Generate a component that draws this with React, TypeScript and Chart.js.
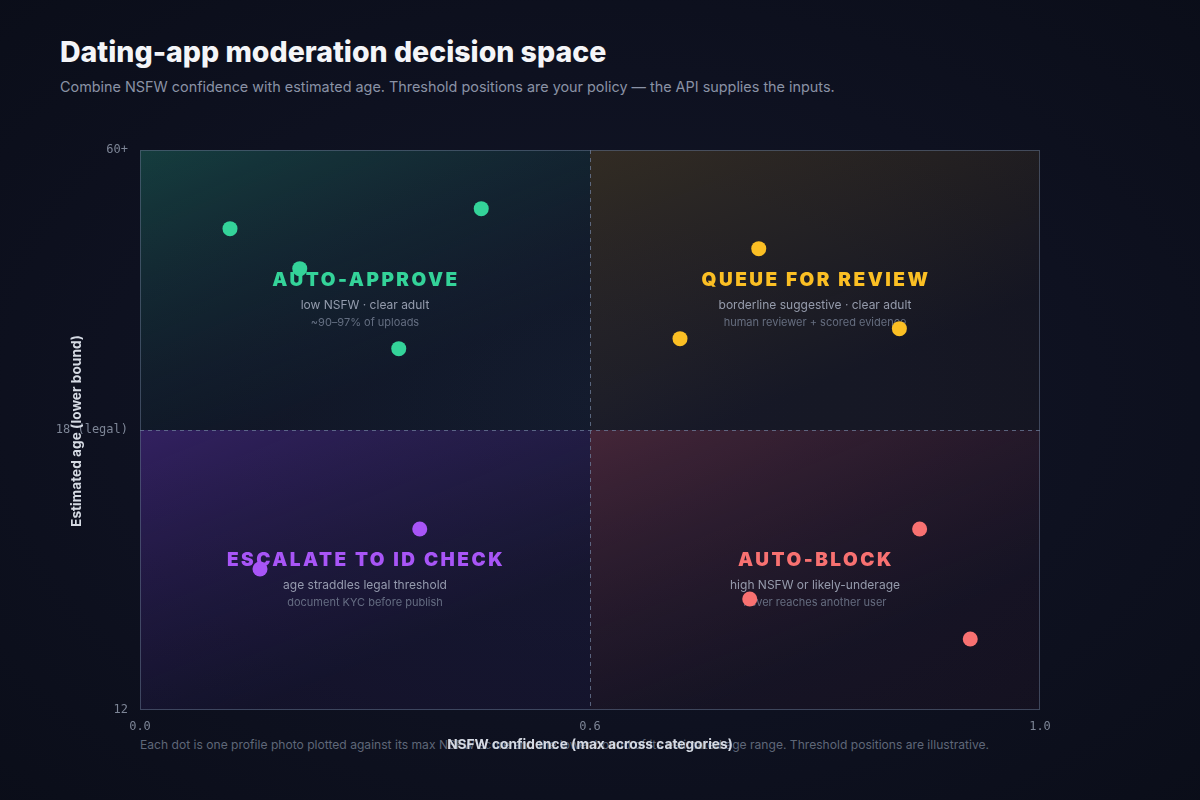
import React, { useEffect, useRef } from 'react';
import { Chart, registerables } from 'chart.js';
Chart.register(...registerables);

// ---- thresholds & axis ranges ----
const NSFW_MIN = 0.0;
const NSFW_THRESHOLD = 0.6;
const NSFW_MAX = 1.0;
const AGE_MIN = 12;
const AGE_THRESHOLD = 18;
const AGE_MAX = 60;

// ---- tick labels ----
const xTickValues = [0.0, 0.6, 1.0];
const xTickLabels = ['0.0', '0.6', '1.0'];
const yTickValues = [12, 18, 60];
const yTickLabels = ['12', '18 (legal)', '60+'];

// ---- series (NSFW confidence, estimated age lower bound) ----
const approveNsfw = [0.12, 0.213, 0.345, 0.455];
const approveAge = [48.2, 42.2, 30.2, 51.2];
const reviewNsfw = [0.75, 0.68, 0.875];
const reviewAge = [45.2, 31.7, 33.2];
const escalateNsfw = [0.16, 0.373];
const escalateAge = [15.02, 15.88];
const blockNsfw = [0.893, 0.742, 0.938];
const blockAge = [15.88, 14.38, 13.52];

// ---- quadrant labels ----
const quadrantTitles = ['AUTO-APPROVE', 'QUEUE FOR REVIEW', 'ESCALATE TO ID CHECK', 'AUTO-BLOCK'];
const quadrantSubs = [
  'low NSFW · clear adult',
  'borderline suggestive · clear adult',
  'age straddles legal threshold',
  'high NSFW or likely-underage',
];
const quadrantNotes = [
  '~90–97% of uploads',
  'human reviewer + scored evidence',
  'document KYC before publish',
  'never reaches another user',
];

const COLORS = {
  approve: '#34d399',
  review: '#fbbf24',
  escalate: '#a855f7',
  block: '#f87171',
};

// piecewise mapping so each threshold sits at the middle of the plot
const toX = (v: number) =>
  v <= NSFW_THRESHOLD
    ? ((v - NSFW_MIN) / (NSFW_THRESHOLD - NSFW_MIN)) * 0.5
    : 0.5 + ((v - NSFW_THRESHOLD) / (NSFW_MAX - NSFW_THRESHOLD)) * 0.5;
const toY = (a: number) =>
  a <= AGE_THRESHOLD
    ? ((a - AGE_MIN) / (AGE_THRESHOLD - AGE_MIN)) * 0.5
    : 0.5 + ((a - AGE_THRESHOLD) / (AGE_MAX - AGE_THRESHOLD)) * 0.5;

const pts = (xs: number[], ys: number[]) => xs.map((x, i) => ({ x: toX(x), y: toY(ys[i]) }));

const FONT = 'Inter, "Noto Sans", sans-serif';
const MONO = '"DejaVu Sans Mono", "Liberation Mono", monospace';

const quadrantPlugin = {
  id: 'quadrants',
  beforeDatasetsDraw(chart: any) {
    const { ctx, chartArea } = chart;
    const { left, top, right, bottom } = chartArea;
    const mx = chart.scales.x.getPixelForValue(toX(NSFW_THRESHOLD));
    const my = chart.scales.y.getPixelForValue(toY(AGE_THRESHOLD));
    ctx.save();
    const quads = [
      { x0: left, y0: top, x1: mx, y1: my, c0: 'rgba(38,150,125,0.34)', c1: 'rgba(30,60,80,0.12)' },
      { x0: mx, y0: top, x1: right, y1: my, c0: 'rgba(150,115,40,0.26)', c1: 'rgba(40,36,40,0.25)' },
      { x0: left, y0: my, x1: mx, y1: bottom, c0: 'rgba(115,60,210,0.36)', c1: 'rgba(60,40,120,0.14)' },
      { x0: mx, y0: my, x1: right, y1: bottom, c0: 'rgba(175,70,90,0.32)', c1: 'rgba(70,35,60,0.14)' },
    ];
    quads.forEach((q) => {
      const g = ctx.createLinearGradient(q.x0, q.y0, q.x0 + (q.x1 - q.x0) * 0.25, q.y1);
      g.addColorStop(0, q.c0);
      g.addColorStop(1, q.c1);
      ctx.fillStyle = g;
      ctx.fillRect(q.x0, q.y0, q.x1 - q.x0, q.y1 - q.y0);
    });
    // plot border
    ctx.strokeStyle = 'rgba(90,105,130,0.6)';
    ctx.lineWidth = 1;
    ctx.strokeRect(left + 0.5, top + 0.5, right - left - 1, bottom - top - 1);
    // threshold lines
    ctx.setLineDash([4, 4]);
    ctx.strokeStyle = 'rgba(110,125,155,0.75)';
    ctx.beginPath();
    ctx.moveTo(Math.round(mx) + 0.5, top);
    ctx.lineTo(Math.round(mx) + 0.5, bottom);
    ctx.moveTo(left, Math.round(my) + 0.5);
    ctx.lineTo(right, Math.round(my) + 0.5);
    ctx.stroke();
    ctx.setLineDash([]);

    // labels
    const centers = [
      [(left + mx) / 2, (top + my) / 2],
      [(mx + right) / 2, (top + my) / 2],
      [(left + mx) / 2, (my + bottom) / 2],
      [(mx + right) / 2, (my + bottom) / 2],
    ];
    const cols = [COLORS.approve, COLORS.review, COLORS.escalate, COLORS.block];
    ctx.textAlign = 'center';
    ctx.textBaseline = 'middle';
    centers.forEach(([cx, cy], i) => {
      ctx.font = `900 19px ${FONT}`;
      (ctx as any).letterSpacing = '2.5px';
      ctx.fillStyle = cols[i];
      ctx.fillText(quadrantTitles[i], cx + 1, cy - 10);
      (ctx as any).letterSpacing = '0px';
      ctx.font = `400 12px ${FONT}`;
      ctx.fillStyle = 'rgba(170,178,195,0.85)';
      ctx.fillText(quadrantSubs[i], cx, cy + 15);
      ctx.font = `400 11px ${FONT}`;
      ctx.fillStyle = 'rgba(120,130,150,0.8)';
      ctx.fillText(quadrantNotes[i], cx, cy + 33);
    });
    ctx.restore();
  },
  afterDraw(chart: any) {
    const { ctx, chartArea } = chart;
    const { left, top, right, bottom } = chartArea;
    ctx.save();
    ctx.fillStyle = '#d5dae3';
    ctx.font = `700 13.7px ${FONT}`;
    ctx.textAlign = 'center';
    ctx.textBaseline = 'middle';
    ctx.fillText('NSFW confidence (max across categories)', (left + right) / 2, 745);
    ctx.translate(77, (top + bottom) / 2 + 1);
    ctx.rotate(-Math.PI / 2);
    ctx.fillText('Estimated age (lower bound)', 0, 0);
    ctx.restore();
  },
};

export default function App() {
  const ref = useRef<HTMLCanvasElement | null>(null);
  useEffect(() => {
    if (!ref.current) return;
    const chart = new Chart(ref.current, {
      type: 'scatter',
      data: {
        datasets: [
          { label: 'Auto-approve', data: pts(approveNsfw, approveAge), backgroundColor: COLORS.approve },
          { label: 'Queue for review', data: pts(reviewNsfw, reviewAge), backgroundColor: COLORS.review },
          { label: 'Escalate to ID check', data: pts(escalateNsfw, escalateAge), backgroundColor: COLORS.escalate },
          { label: 'Auto-block', data: pts(blockNsfw, blockAge), backgroundColor: COLORS.block },
        ].map((d) => ({ ...d, pointRadius: 7.5, pointBorderWidth: 0, pointHoverRadius: 7.5 })),
      },
      options: {
        animation: false,
        responsive: false,
        layout: { padding: { top: 150, right: 160, left: 0, bottom: 0 } },
        plugins: { legend: { display: false }, tooltip: { enabled: false }, title: { display: false } },
        scales: {
          x: {
            type: 'linear',
            min: 0,
            max: 1,
            afterBuildTicks: (s: any) => {
              s.ticks = xTickValues.map((v) => ({ value: toX(v) }));
            },
            afterFit: (s: any) => {
              s.height = 90;
            },
            ticks: {
              callback: (_v: any, i: number) => xTickLabels[i],
              color: '#7d8596',
              font: { family: MONO, size: 12 },
              padding: 10,
              maxRotation: 0,
            },
            grid: { display: false, drawTicks: false },
            border: { display: false },
          },
          y: {
            type: 'linear',
            min: 0,
            max: 1,
            afterBuildTicks: (s: any) => {
              s.ticks = yTickValues.map((v) => ({ value: toY(v) }));
            },
            afterFit: (s: any) => {
              s.width = 140;
            },
            ticks: {
              callback: (_v: any, i: number) => yTickLabels[i],
              color: '#7d8596',
              font: { family: MONO, size: 12 },
              padding: 12,
            },
            grid: { display: false, drawTicks: false },
            border: { display: false },
          },
        },
      },
      plugins: [quadrantPlugin],
    });
    return () => chart.destroy();
  }, []);

  return (
    <div
      style={{
        position: 'absolute',
        left: 0,
        top: 0,
        width: 1200,
        height: 800,
        overflow: 'hidden',
        background: 'radial-gradient(ellipse 75% 75% at 50% 50%, #131729 0%, #0e1120 55%, #0a0d18 100%)',
        fontFamily: FONT,
      }}
    >
      <div style={{ position: 'absolute', left: 60, top: 34, fontSize: 28.5, fontWeight: 800, color: '#f4f5f8', letterSpacing: 0 }}>
        Dating-app moderation decision space
      </div>
      <div style={{ position: 'absolute', left: 60, top: 78, fontSize: 14.4, color: '#8a92a5' }}>
        Combine NSFW confidence with estimated age. Threshold positions are your policy — the API supplies the inputs.
      </div>
      <div style={{ position: 'absolute', left: 140, top: 737, fontSize: 12.1, color: '#5f6778', whiteSpace: 'nowrap' }}>
        Each dot is one profile photo plotted against its max NSFW score and the lower bound of its estimated age range. Threshold positions are illustrative.
      </div>
      <canvas ref={ref} width={1200} height={800} style={{ position: 'absolute', left: 0, top: 0, display: 'block' }} />
    </div>
  );
}
